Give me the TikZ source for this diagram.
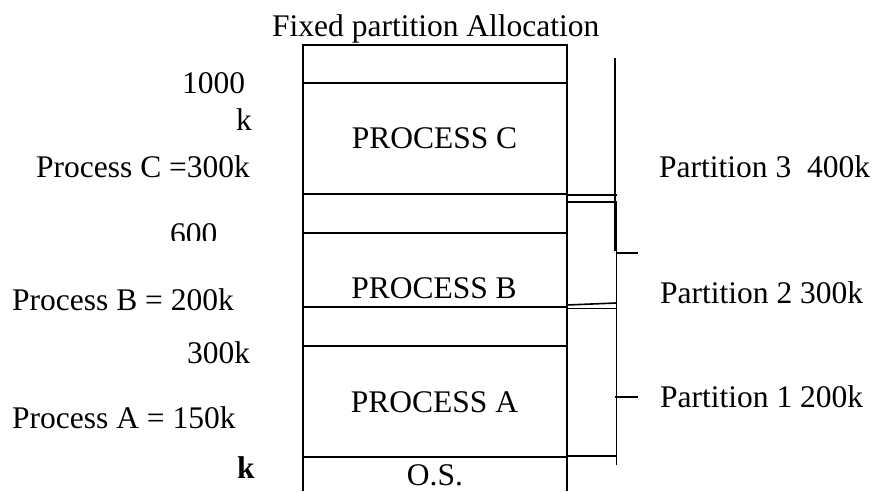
\documentclass[tikz,border=0pt]{standalone}
\usepackage{fontspec}
\setmainfont{Liberation Serif}
\begin{document}
\tikzset{
  lbl/.style={inner sep=0pt, font=\fontsize{31.5}{36}\selectfont, anchor=base west},
  ctr/.style={inner sep=0pt, font=\fontsize{31.5}{36}\selectfont, anchor=base},
  boxline/.style={line width=2.2pt},
  brk/.style={line width=1.6pt}
}
\begin{tikzpicture}[x=1pt,y=-1pt]
\useasboundingbox (0,0) rectangle (876,491);
% memory column
\coordinate (bl) at (303,491);
\coordinate (tl) at (303,45);
\coordinate (tr) at (567,45);
\coordinate (br) at (567,491);
\draw[boxline] (bl) -- (tl) -- (tr) -- (br);
\foreach \y in {83,194,233,307,346,457} \draw[boxline] (303,\y) -- (567,\y);
% partition bracket
\coordinate (v1t) at (615,58);
\coordinate (v1b) at (615,251);
\coordinate (v2t) at (616.5,202);
\coordinate (v2b) at (616.5,465);
\draw[brk] (v1t) -- (v1b);
\draw[brk] (v2t) -- (v2b);
\draw[brk] (567,195) -- (617,195);
\draw[brk] (567,202) -- (617,202);
\draw[brk] (616,253) -- (638,253);
\draw[brk] (567,305) -- (616,303);
\draw[brk] (567,308.5) -- (616,308.5);
\draw[brk] (615,397) -- (638,397);
\draw[brk] (567,456) -- (616,456);
% title and box texts
\node[lbl] (title) at (272,36) {Fixed partition Allocation};
\node[ctr] (pc) at (434.5,148) {PROCESS C};
\node[ctr] (pb) at (434,298) {PROCESS B};
\node[ctr] (pa) at (434.5,412) {PROCESS A};
\node[ctr] (os) at (435,485.5) {O.S.};
% left labels
\node[lbl] (l1000) at (182,93) {1000};
\node[lbl] (lk) at (236,130) {k};
\node[lbl] (lpc) at (36,177) {Process C =300k};
\begin{scope}
\clip (0,0) rectangle (300,240);
\node[lbl] (l600) at (170,244) {600};
\end{scope}
\node[lbl] (lpb) at (12,310) {Process B = 200k};
\node[lbl] (l300) at (187,363) {300k};
\node[lbl] (lpa) at (12,428) {Process A = 150k};
\node[lbl, font=\fontsize{31.5}{36}\selectfont\bfseries] (lkb) at (237,478) {k};
% right labels
\node[lbl] (p3) at (659,177) {Partition 3\ \ 400k};
\node[lbl] (p2) at (660,303) {Partition 2 300k};
\node[lbl] (p1) at (660,407) {Partition 1 200k};
\end{tikzpicture}
\end{document}
